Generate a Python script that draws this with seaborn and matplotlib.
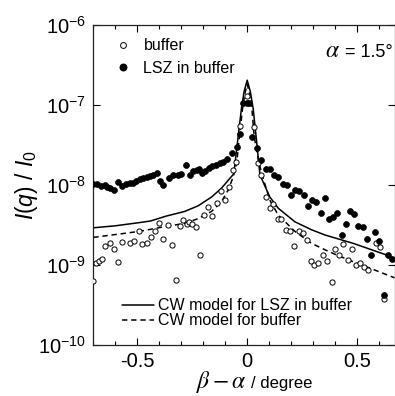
import numpy as np
import pandas as pd
import matplotlib
matplotlib.use("Agg")
import matplotlib.pyplot as plt
import seaborn as sns
from matplotlib.ticker import MultipleLocator, LogLocator, NullLocator
from matplotlib.lines import Line2D

# ---------------- data (log10 of I(q)/I0) -------------
buffer_x = [-0.700, -0.686, -0.675, -0.660, -0.645, -0.625, -0.605, -0.587, -0.569,
            -0.534, -0.514, -0.494, -0.478, -0.458, -0.438, -0.419, -0.400, -0.382,
            -0.362, -0.344, -0.326, -0.306, -0.291, -0.276, -0.265, -0.253, -0.233,
            -0.215, -0.196, -0.178, -0.159, -0.139, -0.120, -0.101, -0.083, -0.064,
            -0.051, -0.035, -0.003, 0.030, 0.047, 0.065, 0.084, 0.103, 0.118, 0.141,
            0.153, 0.175, 0.194, 0.214, 0.235, 0.252, 0.270, 0.288, 0.305, 0.323,
            0.346, 0.364, 0.384, 0.400, 0.419, 0.437, 0.457, 0.475, 0.495, 0.513,
            0.531, 0.551, 0.586, 0.604, 0.622]
buffer_log = [-9.20, -8.97, -8.95, -8.925, -8.76, -8.73, -8.80, -8.96, -8.71,
              -8.72, -8.70, -8.57, -8.74, -8.73, -8.65, -8.58, -8.48, -8.68,
              -8.50, -8.75, -9.19, -8.51, -8.44, -8.49, -8.46, -8.49, -8.52,
              -8.875, -8.375, -8.27, -8.39, -8.22, -8.08, -8.19, -8.03, -7.81,
              -7.71, -7.26, -6.89, -7.27, -7.72, -7.875, -8.15, -8.29, -8.24, -8.42,
              -8.43, -8.56, -8.575, -8.76, -8.57, -8.60, -8.69, -8.95, -9.00, -8.98,
              -8.875, -8.95, -9.21, -8.80, -8.88, -8.74, -8.94, -8.80, -9.00, -8.98,
              -9.03, -9.06, -8.72, -8.78, -9.42]

lsz_x = [-0.700, -0.683, -0.663, -0.648, -0.637, -0.622, -0.605, -0.587, -0.569,
         -0.552, -0.534, -0.519, -0.504, -0.488, -0.473, -0.458, -0.443, -0.428,
         -0.412, -0.396, -0.381, -0.356, -0.337, -0.317, -0.303, -0.280, -0.260,
         -0.246, -0.230, -0.220, -0.204, -0.190, -0.173, -0.158, -0.144, -0.124,
         -0.109, -0.090, -0.068, -0.048, -0.033, -0.018, -0.003, 0.010, 0.020,
         0.043, 0.065, 0.084, 0.103, 0.123, 0.141, 0.161, 0.179, 0.199, 0.217,
         0.237, 0.257, 0.275, 0.293, 0.313, 0.335, 0.352, 0.373, 0.392, 0.410,
         0.430, 0.449, 0.467, 0.486, 0.505, 0.525, 0.543, 0.563, 0.581, 0.600,
         0.620, 0.639, 0.657]
lsz_log = [-7.99, -7.99, -8.01, -8.00, -8.02, -8.04, -8.06, -7.96, -8.01,
           -7.99, -7.98, -7.97, -7.95, -7.93, -7.91, -7.90, -7.89, -7.875,
           -7.85, -7.95, -8.00, -7.91, -7.875, -7.88, -7.86, -7.75, -7.875,
           -7.83, -7.81, -7.80, -7.85, -7.83, -7.79, -7.76, -7.75, -7.72,
           -7.71, -7.67, -7.60, -7.52, -7.36, -6.98, -6.98, -6.98, -7.40,
           -7.54, -7.69, -7.80, -7.80, -7.875, -7.90, -7.99, -8.00, -8.13, -8.06,
           -8.07, -8.125, -8.26, -8.19, -8.21, -8.35, -8.165, -8.425, -8.40, -8.35,
           -8.625, -8.49, -8.325, -8.36, -8.51, -8.53, -8.67, -8.88, -8.59, -8.70,
           -9.38, -8.875, -8.92]

cw_lsz_x = [-0.70, -0.60, -0.49, -0.44, -0.37, -0.284, -0.223, -0.162, -0.117, -0.086,
            -0.061, -0.044, -0.026, -0.014, 0.0, 0.014, 0.027, 0.043, 0.058, 0.103,
            0.141, 0.217, 0.293, 0.354, 0.483, 0.634, 0.67]
cw_lsz_log = [-8.535, -8.51, -8.47, -8.45, -8.39, -8.33, -8.26, -8.15, -8.04, -7.94,
              -7.86, -7.46, -7.04, -6.83, -6.69, -6.83, -7.04, -7.46, -7.875, -8.15,
              -8.29, -8.46, -8.56, -8.625, -8.73, -8.875, -8.92]

cw_buf_x = [-0.70, -0.49, -0.375, -0.284, -0.223, -0.162, -0.117, -0.086, -0.064,
            -0.048, -0.038, -0.021, -0.010, 0.0, 0.010, 0.021, 0.032, 0.050, 0.065,
            0.103, 0.141, 0.217, 0.293, 0.354, 0.407, 0.483, 0.559, 0.67]
cw_buf_log = [-8.655, -8.58, -8.52, -8.48, -8.42, -8.33, -8.21, -8.06, -7.90,
              -7.73, -7.46, -7.04, -6.85, -6.74, -6.85, -7.04, -7.40, -7.67, -7.85,
              -8.19, -8.375, -8.58, -8.73, -8.81, -8.875, -8.96, -9.04, -9.16]

x_ticks = [-0.5, 0, 0.5]
x_tick_labels = ["-0.5", "0", "0.5"]
legend_labels = ["buffer", "LSZ in buffer", "CW model for LSZ in buffer", "CW model for buffer"]

# ---------------- style ----------------
sns.set_style("ticks")
plt.rcParams["font.family"] = ["Liberation Sans", "DejaVu Sans"]
plt.rcParams["mathtext.fontset"] = "custom"
plt.rcParams["mathtext.rm"] = "Liberation Sans"
plt.rcParams["mathtext.it"] = "Liberation Sans:italic"
plt.rcParams["mathtext.bf"] = "Liberation Sans:bold"
plt.rcParams["axes.unicode_minus"] = False
for k in ["text.color", "axes.labelcolor", "xtick.color", "ytick.color", "axes.edgecolor"]:
    plt.rcParams[k] = "black"

W, H = 395, 396
fig = plt.figure(figsize=(W / 100, H / 100), dpi=100)
ax = fig.add_axes([93.3 / W, 51 / H, (394.5 - 93.3) / W, 320 / H])

df_buf = pd.DataFrame({"x": buffer_x, "y": np.power(10.0, buffer_log)})
df_lsz = pd.DataFrame({"x": lsz_x, "y": np.power(10.0, lsz_log)})
df_cwl = pd.DataFrame({"x": cw_lsz_x, "y": np.power(10.0, cw_lsz_log)})
df_cwb = pd.DataFrame({"x": cw_buf_x, "y": np.power(10.0, cw_buf_log)})

ax.set_yscale("log")
sns.lineplot(data=df_cwl, x="x", y="y", ax=ax, color="black", lw=1.1,
             estimator=None, sort=False, zorder=2)
sns.lineplot(data=df_cwb, x="x", y="y", ax=ax, color="black", lw=1.1,
             estimator=None, sort=False, zorder=2)
ax.lines[-1].set_dashes((3.5, 2.5))
sns.scatterplot(data=df_buf, x="x", y="y", ax=ax, marker="o", s=14,
                facecolor="white", edgecolor="black", linewidth=0.7, zorder=3)
sns.scatterplot(data=df_lsz, x="x", y="y", ax=ax, marker="o", s=18,
                color="black", edgecolor="black", linewidth=0.5, zorder=4)

ax.set_xlim(-0.7, 0.67)
ax.set_ylim(1e-10, 1e-6)
ax.set_xlabel("")
ax.set_ylabel("")
ax.xaxis.label.set_visible(False)
ax.yaxis.label.set_visible(False)

ax.xaxis.set_minor_locator(MultipleLocator(0.1))
ax.yaxis.set_major_locator(LogLocator(base=10, numticks=10))
ax.yaxis.set_minor_locator(NullLocator())
ax.set_xticks(x_ticks)
ax.set_xticklabels(x_tick_labels)
ax.tick_params(which="both", direction="in", top=True, right=True, color="black",
               width=0.8)
ax.tick_params(which="major", length=5, labelsize=14.5, pad=5)
ax.tick_params(which="minor", length=3)
for sp in ax.spines.values():
    sp.set_linewidth(0.9)
    sp.set_color("#222222")

# legends
mk_handles = [Line2D([], [], ls="none", marker="o", ms=4.2, mfc="white", mec="black", mew=0.7),
              Line2D([], [], ls="none", marker="o", ms=4.7, mfc="black", mec="black")]
leg1 = fig.legend(mk_handles, legend_labels[:2], loc="center left",
                  bbox_to_anchor=(115.5 / W, 1 - 57 / H), frameon=False, fontsize=11.5,
                  handlelength=0.9, handletextpad=0.85, labelspacing=0.45,
                  borderpad=0, borderaxespad=0)
ln_handles = [Line2D([], [], color="black", lw=1.1),
              Line2D([], [], color="black", lw=1.1, dashes=(3.5, 2.5))]
leg2 = fig.legend(ln_handles, legend_labels[2:], loc="center left",
                  bbox_to_anchor=(121.7 / W, 1 - 313.3 / H), frameon=False, fontsize=11.5,
                  handlelength=2.0, handletextpad=0.3, labelspacing=0.02,
                  borderpad=0, borderaxespad=0)

# annotations
t_val = fig.text(393 / W, 1 - 57 / H, " = 1.5°", fontsize=13, ha="right", va="baseline")
fig.canvas.draw()
bb = t_val.get_window_extent()
fig.text(bb.x0 / W, 1 - 57 / H, r"$\alpha$", fontsize=17, math_fontfamily="stix",
         ha="right", va="baseline")

fig.text(27 / W, 1 - 185 / H, r"$I(q)\ /\ I_0$", fontsize=16.5, rotation=90,
         ha="center", va="center")

fig.text(196 / W, 1 - 388 / H, r"$\beta - \alpha$", fontsize=17, math_fontfamily="stix",
         ha="left", va="baseline")
fig.text(251.5 / W, 1 - 388 / H, "/ degree", fontsize=12, ha="left", va="baseline")

fig.savefig("out.png", dpi=100)
